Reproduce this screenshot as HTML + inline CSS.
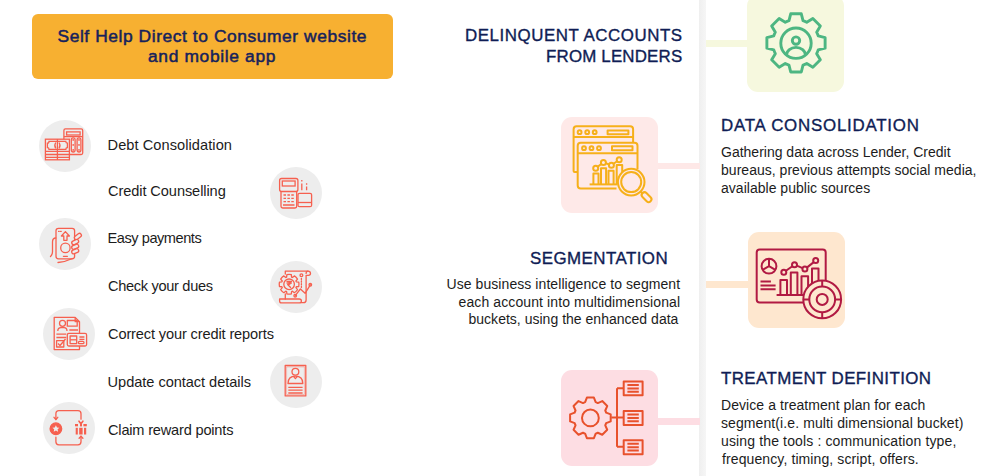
<!DOCTYPE html>
<html><head><meta charset="utf-8">
<style>
html,body{margin:0;padding:0;background:#fff;}
body{width:1000px;height:476px;position:relative;overflow:hidden;font-family:"Liberation Sans",sans-serif;}
.a{position:absolute;}
.t{position:absolute;white-space:nowrap;line-height:1;}
.banner{left:32px;top:14px;width:361px;height:65px;background:#f7b031;border-radius:6px;}
.bt{font-weight:400;font-size:17.4px;color:#16225c;-webkit-text-stroke:0.5px #16225c;}
.circ{position:absolute;width:52px;height:52px;border-radius:50%;background:#ededed;}
.li{font-size:14.6px;color:#1c1c1c;}
.h{font-size:16.9px;color:#0f1d55;-webkit-text-stroke:0.35px #0f1d55;}
.p{font-size:14px;color:#1c1c1c;}
.vline{left:699px;top:0;width:6.8px;height:476px;background:linear-gradient(90deg,#efefef,#f2f2f2 40%,#f6f6f6);}
.box{position:absolute;width:97px;height:96px;border-radius:11px;}
</style></head>
<body>
<div class="a banner"></div>
<div id="b1" class="t bt" style="left:57.50px;top:28px;letter-spacing:0.572px">Self Help Direct to Consumer website</div>
<div id="b2" class="t bt" style="left:148.00px;top:48px;letter-spacing:0.654px">and mobile app</div>

<div class="circ" style="left:38.5px;top:119.5px"></div>
<div class="circ" style="left:269.6px;top:166.8px"></div>
<div class="circ" style="left:39px;top:218px"></div>
<div class="circ" style="left:269.5px;top:260.5px"></div>
<div class="circ" style="left:42.6px;top:308px"></div>
<div class="circ" style="left:269.5px;top:355.5px"></div>
<div class="circ" style="left:42.6px;top:402px"></div>

<div id="l1" class="t li" style="left:107.60px;top:137.5px;letter-spacing:0.060px">Debt Consolidation</div>
<div id="l2" class="t li" style="left:108.00px;top:183.5px;letter-spacing:-0.088px">Credit Counselling</div>
<div id="l3" class="t li" style="left:107.60px;top:231.3px;letter-spacing:-0.470px">Easy payments</div>
<div id="l4" class="t li" style="left:108.00px;top:278.8px;letter-spacing:-0.321px">Check your dues</div>
<div id="l5" class="t li" style="left:108.00px;top:326.8px;letter-spacing:-0.135px">Correct your credit reports</div>
<div id="l6" class="t li" style="left:107.60px;top:374.7px;letter-spacing:-0.047px">Update contact details</div>
<div id="l7" class="t li" style="left:108.00px;top:422.5px;letter-spacing:-0.195px">Claim reward points</div>

<div class="a vline"></div>

<div class="a" style="left:705.7px;top:40.1px;width:42px;height:6.6px;background:#f6f8de"></div>
<div class="box" style="left:747.4px;top:-5.5px;height:97px;background:#f6f8de"></div>

<div id="h1" class="t h" style="left:465.00px;top:27.75px;letter-spacing:0.555px">DELINQUENT ACCOUNTS</div>
<div id="h2" class="t h" style="left:546.00px;top:48.55px;letter-spacing:0.182px">FROM LENDERS</div>

<div class="a" style="left:657px;top:162.9px;width:42.5px;height:6.4px;background:#fee8e7"></div>
<div class="box" style="left:561px;top:117px;background:#fee9e8"></div>

<div id="h3" class="t h" style="left:721.00px;top:118.35px;letter-spacing:0.766px">DATA CONSOLIDATION</div>
<div id="p3a" class="t p" style="left:721.00px;top:144.6px;letter-spacing:0.000px">Gathering data across Lender, Credit</div>
<div id="p3b" class="t p" style="left:721.00px;top:162.6px;letter-spacing:0.027px">bureaus, previous attempts social media,</div>
<div id="p3c" class="t p" style="left:721.00px;top:180.6px;letter-spacing:0.022px">available public sources</div>

<div id="h4" class="t h" style="left:530.00px;top:251.35px;letter-spacing:0.455px">SEGMENTATION</div>
<div id="p4a" class="t p" style="left:446.50px;top:276.5px;letter-spacing:0.071px">Use business intelligence to segment</div>
<div id="p4b" class="t p" style="left:458.50px;top:294.5px;letter-spacing:0.110px">each account into multidimensional</div>
<div id="p4c" class="t p" style="left:468.50px;top:312.4px;letter-spacing:0.016px">buckets, using the enhanced data</div>

<div class="a" style="left:705.7px;top:281.3px;width:43px;height:6.8px;background:#fee7cf"></div>
<div class="box" style="left:748px;top:232px;background:#fee7cf"></div>

<div class="a" style="left:657px;top:418.2px;width:42.5px;height:6.6px;background:#fddde3"></div>
<div class="box" style="left:561px;top:369.5px;background:#fddde3"></div>

<div id="h5" class="t h" style="left:721.00px;top:371.35px;letter-spacing:0.420px">TREATMENT DEFINITION</div>
<div id="p5a" class="t p" style="left:721.00px;top:398.4px;letter-spacing:0.065px">Device a treatment plan for each</div>
<div id="p5b" class="t p" style="left:721.00px;top:416.0px;letter-spacing:0.094px">segment(i.e. multi dimensional bucket)</div>
<div id="p5c" class="t p" style="left:721.00px;top:434.4px;letter-spacing:0.139px">using the tools : communication type,</div>
<div id="p5d" class="t p" style="left:722.00px;top:452.4px;letter-spacing:0.106px">frequency, timing, script, offers.</div>

<!--ICONS--><svg class="a" style="left:0;top:0" width="1000" height="476" viewBox="0 0 1000 476">
<g fill="none" stroke="#4db682" stroke-width="2.9" stroke-linejoin="round"><path d="M788.99 20.68L790.71 13.78L801.29 13.78L803.01 20.68A23.3 23.3 0 0 1 806.76 22.23L812.85 18.56L820.34 26.05L816.67 32.14A23.3 23.3 0 0 1 818.22 35.89L825.12 37.61L825.12 48.19L818.22 49.91A23.3 23.3 0 0 1 816.67 53.66L820.34 59.75L812.85 67.24L806.76 63.57A23.3 23.3 0 0 1 803.01 65.12L801.29 72.02L790.71 72.02L788.99 65.12A23.3 23.3 0 0 1 785.24 63.57L779.15 67.24L771.66 59.75L775.33 53.66A23.3 23.3 0 0 1 773.78 49.91L766.88 48.19L766.88 37.61L773.78 35.89A23.3 23.3 0 0 1 775.33 32.14L771.66 26.05L779.15 18.56L785.24 22.23A23.3 23.3 0 0 1 788.99 20.68Z"/><circle cx="796" cy="43.2" r="15.2"/><circle cx="796" cy="40.6" r="3.7"/><path d="M786.6 55 A9.4 7.6 0 0 1 805.4 55"/></g>
<g transform="translate(566 122)" fill="none" stroke="#f6b01a" stroke-width="2" stroke-linejoin="round"><path d="M11.7 50 L8.6 50 Q7.6 50 7.6 49 L7.6 7.2 Q7.6 4.2 10.6 4.2 L64.1 4.2 Q67.1 4.2 67.1 7.2 L67.1 20.8"/><path d="M7.6 15.1 H67.1"/><circle cx="13.6" cy="10.2" r="1.9"/><circle cx="21.2" cy="10.2" r="1.9"/><circle cx="28.7" cy="10.2" r="1.9"/><rect x="41.6" y="8.4" width="20.8" height="3.8"/><path d="M50.5 66.5 H14.7 Q11.7 66.5 11.7 63.5 V23.8 Q11.7 20.8 14.7 20.8 H68.5 Q71.5 20.8 71.5 23.8 V47"/><path d="M11.7 31.2 H71.5"/><circle cx="18" cy="26.2" r="1.9"/><circle cx="25.5" cy="26.2" r="1.9"/><circle cx="33" cy="26.2" r="1.9"/><rect x="46" y="24.3" width="20.5" height="4"/><path d="M23.6 62.4 H51"/><path d="M27.4 62.4 V51.4 H32.5 V62.4"/><path d="M35 62.4 V46.3 H40.1 V62.4"/><path d="M42.5 62.4 V48.8 H47.6 V62.4"/><path d="M50.7 62.4 V42.9 H56.2 V62.4"/><path d="M29.7 46.2 L37.4 40.4 L45.4 43.3 L53.2 37.8"/><circle cx="29.7" cy="46.2" r="2.5" fill="#fee9e8"/><circle cx="37.4" cy="40.4" r="2.5" fill="#fee9e8"/><circle cx="45.4" cy="43.3" r="2.5" fill="#fee9e8"/><circle cx="53.2" cy="37.8" r="2.5" fill="#fee9e8"/><circle cx="65.2" cy="60.1" r="13.3" fill="#fee9e8"/><circle cx="65.2" cy="60.1" r="10"/><path d="M74.6 69.6 L77 72"/><rect x="74.8" y="72.3" width="11.5" height="5.6" rx="2.8" transform="rotate(45 80.5 75.1)"/></g>
<g transform="translate(752 236)" fill="none" stroke="#b11a43" stroke-width="2" stroke-linejoin="round"><rect x="4.7" y="13.6" width="69" height="52.9" rx="3"/><circle cx="17" cy="30.2" r="7.4"/><path d="M17 30.2 V22.8 M17 30.2 L10.6 33.9 M17 30.2 L23.4 33.9"/><path d="M8.5 45.4 H18.9 M8.5 49.5 H23.6 M8.5 53.3 H23.6"/><path d="M24.6 59 H54.8"/><path d="M28.4 59 V43.9 H35 V59"/><path d="M38.8 59 V36.5 H45.4 V59"/><path d="M49.5 59 V40.3 H56.1 V59"/><path d="M60 59 V32.5 H66.5 V59"/><path d="M31.8 36.3 L42.5 28.7 L52.9 33.1 L63.7 24.6"/><circle cx="31.8" cy="36.3" r="2.5" fill="#fee7cf"/><circle cx="42.5" cy="28.7" r="2.5" fill="#fee7cf"/><circle cx="52.9" cy="33.1" r="2.5" fill="#fee7cf"/><circle cx="63.7" cy="24.6" r="2.5" fill="#fee7cf"/><circle cx="70.2" cy="63.4" r="18.9" fill="#fee7cf"/><circle cx="70.2" cy="63.4" r="12.9"/><circle cx="70.2" cy="63.4" r="5.5"/><path d="M70.2 44.5 V50.5 M70.2 76.3 V82.3 M51.3 63.4 H57.3 M83.1 63.4 H89.1"/></g>
<g transform="translate(566 374)" fill="none" stroke="#e8512c" stroke-width="2" stroke-linejoin="round"><path d="M19.13 28.16L20.89 23.6L27.91 23.6L29.67 28.16A16.6 16.6 0 0 1 31.81 29.04L36.27 27.07L41.23 32.03L39.26 36.49A16.6 16.6 0 0 1 40.14 38.63L44.7 40.39L44.7 47.41L40.14 49.17A16.6 16.6 0 0 1 39.26 51.31L41.23 55.77L36.27 60.73L31.81 58.76A16.6 16.6 0 0 1 29.67 59.64L27.91 64.2L20.89 64.2L19.13 59.64A16.6 16.6 0 0 1 16.99 58.76L12.53 60.73L7.57 55.77L9.54 51.31A16.6 16.6 0 0 1 8.66 49.17L4.1 47.41L4.1 40.39L8.66 38.63A16.6 16.6 0 0 1 9.54 36.49L7.57 32.03L12.53 27.07L16.99 29.04A16.6 16.6 0 0 1 19.13 28.16Z"/><circle cx="24.4" cy="43.9" r="8.4"/><path d="M45.3 43.6 H57.7 M51 14.3 V72.8 M51 14.3 H57.7 M51 72.8 H57.7"/><rect x="57.7" y="7.6" width="18.9" height="13.6"/><rect x="57.7" y="36.9" width="18.9" height="14"/><rect x="57.7" y="66.2" width="18.9" height="14"/><path d="M61.4 11 H72.8 M61.4 14.4 H72.8 M61.4 17.8 H72.8"/><path d="M61.4 40.5 H72.8 M61.4 43.9 H72.8 M61.4 47.3 H72.8"/><path d="M61.4 69.8 H72.8 M61.4 73.2 H72.8 M61.4 76.6 H72.8"/></g>
<g transform="translate(42 124)" fill="none" stroke="#f6604f" stroke-width="1.3"><rect x="21.9" y="4.9" width="18.8" height="25.6" rx="1.5"/><rect x="24.6" y="7.9" width="13.5" height="3.1"/><path d="M21.9 12.6 H40.7"/><rect x="29.3" y="13.8" width="3.8" height="14.2" rx="1.9"/><rect x="35.1" y="13.8" width="3.8" height="14.2" rx="1.9"/><g fill="#f6604f" stroke="none"><circle cx="31.2" cy="15.9" r="0.9"/><circle cx="31.2" cy="20.9" r="0.9"/><circle cx="31.2" cy="25.9" r="0.9"/><circle cx="37" cy="15.9" r="0.9"/><circle cx="37" cy="20.9" r="0.9"/><circle cx="37" cy="25.9" r="0.9"/></g><rect x="3.4" y="15.2" width="24" height="20.6" fill="#ededed"/><path d="M7 17.4 H23.8 Q23.8 19.2 25.4 19.2 V23.6 Q23.8 23.6 23.8 25.4 H7 Q7 23.6 5.4 23.6 V19.2 Q7 19.2 7 17.4 Z"/><path d="M15.4 15.2 V35.8"/><path d="M3.4 27.4 H27.4 M3.4 30.5 H27.4 M3.4 33.3 H27.4"/><path d="M13.8 18.5 Q11.8 21.4 13.8 24.3 M17 18.5 Q19 21.4 17 24.3"/></g>
<g transform="translate(273 170)" fill="none" stroke="#f6604f" stroke-width="1.3"><rect x="6.6" y="8.5" width="18.3" height="13" rx="2"/><rect x="9.3" y="11" width="12.8" height="5"/><path d="M8 21.5 V36.3 Q8 38 9.7 38 H22 Q23.7 38 23.7 36.3 V21.5"/><path d="M10.5 25 H13 M14.4 25 H16.9 M18.3 25 H20.8 M10.5 28.4 H13 M14.4 28.4 H16.9 M18.3 28.4 H20.8 M10.5 31.7 H13 M14.4 31.7 H16.9 M18.3 31.7 H20.8 M10 35 H21.5"/><rect x="25" y="23.3" width="13.6" height="13.4" rx="1.5"/><path d="M25 32.5 H38.6"/><path d="M28.8 10 V11.5 M28.8 13.5 V20.3 M33.6 13.2 V14.7 M33.6 16.5 V20.3"/></g>
<g transform="translate(43 221)" fill="none" stroke="#f6604f" stroke-width="1.3" stroke-linejoin="round" stroke-linecap="round"><rect x="13" y="7.3" width="18.6" height="30.5" rx="2.5"/><path d="M15.6 10.4 H16.2 M17.6 10.4 H18.2"/><path d="M22.4 10.6 L26.4 15 H24 V19.3 H20.8 V15 H18.4 Z"/><circle cx="22.4" cy="26.9" r="4.7"/><path d="M20.4 35.3 H24.4"/><path d="M12.8 17 Q9.5 17 9.5 21 V31 Q9.5 33.5 7.5 35.5"/><path d="M15 41.5 Q22 41 29.5 37.5"/><rect x="31" y="13.6" width="7.8" height="3.8" rx="1.9" fill="#ededed" transform="rotate(-38 34.9 15.5)"/><rect x="28.6" y="19.2" width="7.2" height="3.8" rx="1.9" fill="#ededed" transform="rotate(-25 32.2 21.1)"/><rect x="28.6" y="23.9" width="7.2" height="3.8" rx="1.9" fill="#ededed" transform="rotate(-22 32.2 25.8)"/><rect x="28.6" y="28.4" width="7.2" height="3.8" rx="1.9" fill="#ededed" transform="rotate(-22 32.2 30.3)"/></g>
<g transform="translate(273 264)" fill="none" stroke="#f6604f" stroke-width="1.3" stroke-linejoin="round" stroke-linecap="round"><path d="M12.3 10 V7.1 H35 Q37.5 7.1 37.5 9.5 Q37.5 11.3 35.5 11.3 H33.1 V36 Q33.1 38.7 30.5 38.7 H28.3"/><path d="M33.1 9.4 Q33.1 7.1 35 7.1"/><path d="M12.3 30 V35"/><path d="M6.6 35 H26.2 Q28.4 35 28.4 36.9 Q28.4 38.8 26.2 38.8 H8.5 Q6.6 38.8 6.6 36.9 Z"/><path d="M13.63 13.11L13.87 10.65A9.9 9.9 0 0 1 18.33 10.65L18.57 13.11A7.6 7.6 0 0 1 19.43 13.47L21.35 11.9A9.9 9.9 0 0 1 24.5 15.05L22.93 16.97A7.6 7.6 0 0 1 23.29 17.83L25.75 18.07A9.9 9.9 0 0 1 25.75 22.53L23.29 22.77A7.6 7.6 0 0 1 22.93 23.63L24.5 25.55A9.9 9.9 0 0 1 21.35 28.7L19.43 27.13A7.6 7.6 0 0 1 18.57 27.49L18.33 29.95A9.9 9.9 0 0 1 13.87 29.95L13.63 27.49A7.6 7.6 0 0 1 12.77 27.13L10.85 28.7A9.9 9.9 0 0 1 7.7 25.55L9.27 23.63A7.6 7.6 0 0 1 8.91 22.77L6.45 22.53A9.9 9.9 0 0 1 6.45 18.07L8.91 17.83A7.6 7.6 0 0 1 9.27 16.97L7.7 15.05A9.9 9.9 0 0 1 10.85 11.9L12.77 13.47A7.6 7.6 0 0 1 13.63 13.11Z" fill="#ededed"/><circle cx="16.1" cy="20.3" r="5.3"/><path d="M14 17.4 H18.4 M14 19 H18.4 M14.6 17.4 Q17.6 17.4 17.4 19 Q17.2 20.6 14.6 20.6 L17.6 23.4"/><circle cx="28.4" cy="11.3" r="1.4"/><path d="M28.4 14.3 V15.5 M28.4 17 V18.2 M28.4 19.7 V20.9 M28.4 22.4 V23.6"/><path d="M22.2 31.7 L27.4 25 L32.1 29.3 L37.3 20.8"/><circle cx="22.2" cy="31.7" r="1.3"/><circle cx="37.3" cy="20.8" r="1.3"/></g>
<g transform="translate(46 312)" fill="none" stroke="#f6604f" stroke-width="1.3" stroke-linejoin="round"><path d="M8.2 5.4 H29.2 L33.5 9.7 V37.6 H8.2 Z"/><path d="M29.2 5.4 V9.7 H33.5"/><circle cx="16.5" cy="11.3" r="3"/><path d="M11.8 18.9 Q11.8 15.6 15 15.6 H18 Q21 15.6 21 18.9"/><rect x="21.3" y="8.5" width="9.9" height="5.7"/><path d="M23.3 18 H32 M10.4 22.2 H20.3 M10.4 25.5 H20.3"/><rect x="10.6" y="28.6" width="7.2" height="6.4"/><path d="M12 31.5 L14 33.5 L19.5 27"/><rect x="21.3" y="21.4" width="19.3" height="12.6" rx="1.5" fill="#ededed"/><rect x="24.1" y="24" width="6.6" height="7.6"/><path d="M24.1 27.8 H30.7"/><path d="M33.4 25 H38.4 M33.4 27.3 H38.4"/><rect x="32.4" y="29.3" width="5.6" height="2.4" rx="1.2"/></g>
<g transform="translate(273 359)" fill="none" stroke="#f6604f" stroke-width="1.3" stroke-linejoin="round"><rect x="12.2" y="6.5" width="20.6" height="30.4"/><rect x="13.6" y="7.9" width="17.8" height="27.6" stroke-width="0.6" stroke-opacity="0.6"/><circle cx="22.4" cy="12.8" r="3.4"/><path d="M15 24.5 Q15 17.2 22.4 17.2 Q29.8 17.2 29.8 24.5 Z"/><path d="M20.4 17.4 L22.4 19.6 L24.4 17.4"/><path d="M15.3 28.4 H29.6 M15.3 31.2 H29.6 M15.3 34 H29.6"/></g>
<g transform="translate(46 406)" stroke="#f6604f" stroke-width="1.3" stroke-linejoin="round" stroke-linecap="round"><path fill="none" d="M9.9 13.5 V7.7 Q9.9 4.7 12.9 4.7 H32 Q35 4.7 35 7.7 V13.2"/><path fill="none" d="M8 11.3 L9.9 13.5 L11.8 11.3"/><path fill="none" d="M9.9 31.2 V35.8 Q9.9 38.8 12.9 38.8 H32 Q35 38.8 35 35.8 V30.2"/><path fill="none" d="M33.1 32.2 L35 30.2 L36.9 32.2"/><circle cx="9.9" cy="22.7" r="5.8" fill="#f6604f"/><path d="M9.9 19.2 L11 21.5 L13.4 21.7 L11.6 23.3 L12.1 25.8 L9.9 24.5 L7.7 25.8 L8.2 23.3 L6.4 21.7 L8.8 21.5 Z" fill="#ededed" stroke="none"/><g fill="#f6604f" stroke="none"><rect x="29" y="18" width="3" height="2.3"/><rect x="34" y="17.6" width="2" height="2.8"/><rect x="37.4" y="18" width="3.4" height="2.3"/><rect x="29.7" y="21.8" width="2.1" height="6.7"/><rect x="33.2" y="21.8" width="3.4" height="6.7"/><rect x="38" y="21.8" width="2.2" height="6.7"/></g><path fill="none" stroke-width="1.6" d="M33 15.2 L34.9 17.8 L36.9 15.2"/></g>
</svg><!--/ICONS-->
</body></html>
